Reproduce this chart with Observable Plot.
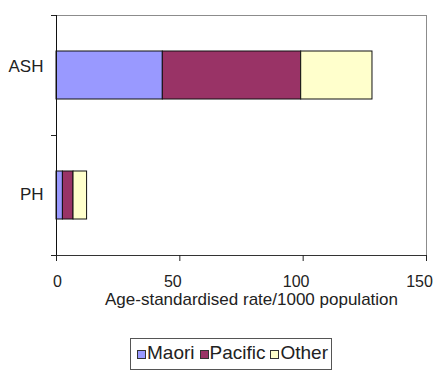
<!DOCTYPE html>
<html>
<head>
<meta charset="utf-8">
<script src="https://cdn.jsdelivr.net/npm/d3@7"></script>
<script src="https://cdn.jsdelivr.net/npm/@observablehq/plot@0.6"></script>
<style>
  html, body { margin: 0; padding: 0; background: #fff; }
  #wrap { position: relative; width: 433px; height: 370px; font-family: "Liberation Sans", Arial, sans-serif; color: #222; }
  #legend {
    position: absolute; left: 130px; top: 338px; width: 202px; height: 32px;
    box-sizing: border-box; border: 1px solid #555; padding: 4px 0 0 6px;
    display: flex; align-items: baseline; font-size: 19px; line-height: 19px;
  }
  .item { display: flex; align-items: baseline; margin-right: 5px; }
  .sw { display: inline-block; width: 7px; height: 7px; border: 1px solid #333; margin-right: 1px; }
</style>
</head>
<body>
<div id="wrap"></div>
<script>
// Rates by ethnic group for the two measures
const categories = ["ASH", "PH"];
const groups = ["Maori", "Pacific", "Other"];
const maori = [43.1, 2.6];
const pacific = [56.1, 4.3];
const other = [28.9, 5.5];
const xTicks = [0, 50, 100, 150];
const colors = ["#9999ff", "#993366", "#ffffcc"];
const xLabel = "Age-standardised rate/1000 population";

const series = {Maori: maori, Pacific: pacific, Other: other};
const rows = categories.flatMap((cat, i) =>
  groups.map(group => ({cat, group, value: series[group][i]}))
);

// Short ticks on the left axis at each category boundary
function bandEdgeTicks(index, scales, values, dims) {
  const n = categories.length;
  const top = dims.marginTop;
  const bottom = dims.height - dims.marginBottom;
  const step = (bottom - top) / n;
  const g = d3.create("svg:g").attr("stroke", "#222").attr("stroke-width", 1);
  for (let i = 0; i <= n; i++) {
    const y = Math.round(top + i * step) + 0.5;
    g.append("line")
      .attr("x1", dims.marginLeft - 5).attr("x2", dims.marginLeft)
      .attr("y1", y).attr("y2", y);
  }
  return g.node();
}

const chart = Plot.plot({
  width: 433,
  height: 318,
  marginTop: 15,
  marginLeft: 56,
  marginRight: 7,
  marginBottom: 63,
  style: {fontFamily: "'Liberation Sans', Arial, sans-serif", fontSize: "17px", color: "#222", background: "#fff"},
  x: {domain: [0, 150]},
  y: {domain: categories, paddingInner: 0.6, paddingOuter: 0.3},
  color: {domain: groups, range: colors},
  marks: [
    Plot.barX(rows, Plot.stackX({
      x: "value", y: "cat", fill: "group", order: groups,
      stroke: "#111", strokeWidth: 1
    })),
    Plot.frame({anchor: "top", stroke: "#8c8c8c"}),
    Plot.frame({anchor: "right", stroke: "#8c8c8c"}),
    Plot.frame({anchor: "bottom", stroke: "#333"}),
    Plot.frame({anchor: "left", stroke: "#111"}),
    Plot.axisX({ticks: xTicks, tickSize: 6, tickFormat: () => "", label: null, stroke: "#222"}),
    Plot.axisX({ticks: xTicks.slice(0, 1), tickSize: 0, tickPadding: 20, fontSize: 16, dx: 1, label: null}),
    Plot.axisX({ticks: xTicks.slice(1), tickSize: 0, tickPadding: 20, fontSize: 16, dx: -7, label: null}),
    Plot.axisY({ticks: ["ASH"], tickSize: 0, tickPadding: 13, dy: -9, label: null}),
    Plot.axisY({ticks: ["PH"], tickSize: 0, tickPadding: 13, dy: -1, label: null}),
    bandEdgeTicks,
    Plot.text([xLabel], {frameAnchor: "bottom", text: d => d, lineAnchor: "top", dy: 37, dx: 10, fontSize: 17, fill: "#222"})
  ]
});

const wrap = document.getElementById("wrap");
wrap.appendChild(chart);

// Legend box below the chart
const legend = document.createElement("div");
legend.id = "legend";
groups.forEach((g, i) => {
  const item = document.createElement("span");
  item.className = "item";
  const sw = document.createElement("span");
  sw.className = "sw";
  sw.style.background = colors[i];
  item.appendChild(sw);
  item.appendChild(document.createTextNode(g));
  legend.appendChild(item);
});
wrap.appendChild(legend);
</script>
</body>
</html>
